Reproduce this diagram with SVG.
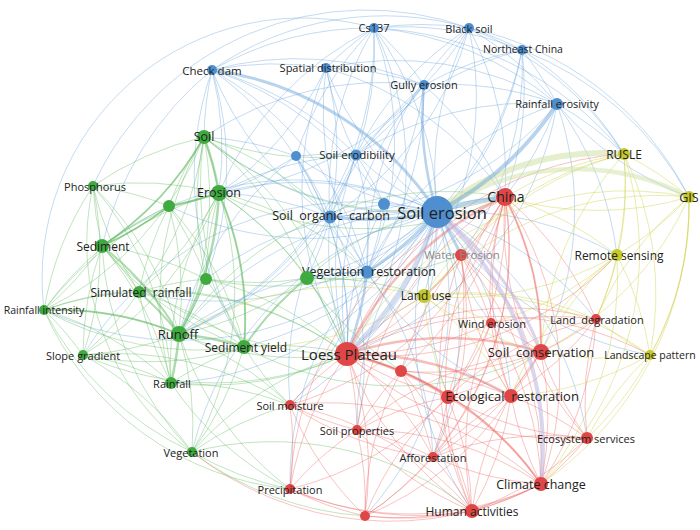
<svg xmlns="http://www.w3.org/2000/svg" width="700" height="530" viewBox="0 0 700 530">
<style>
#edges path{fill:none;stroke-linecap:round}
.b path{stroke:#5c9ad8;stroke-opacity:.36;stroke-width:1}
.g path{stroke:#5cb85c;stroke-opacity:.38;stroke-width:1}
.r path{stroke:#ec625c;stroke-opacity:.38;stroke-width:1}
.y path{stroke:#ccd040;stroke-opacity:.42;stroke-width:1}
.tb path{stroke:#6fa8dc;stroke-opacity:.5;stroke-width:3}
.tr path{stroke:#ee6c66;stroke-opacity:.45;stroke-width:2.5}
.tg path{stroke:#5cb85c;stroke-opacity:.5;stroke-width:2.5}
text{font-family:"Open Sans","Liberation Sans",sans-serif;fill:#222;text-anchor:middle;dominant-baseline:central}
.nb{fill:#4f8fcf}.nr{fill:#e04646}.ng{fill:#3fab3f}.ny{fill:#c6c92b}
</style>
<rect width="700" height="530" fill="#fff"/>
<g id="edges">
<g class="b">
<path d="M437 212A320 320 0 0 1 384 204"/><path d="M437 212A320 320 0 0 1 356 155"/><path d="M437 212A320 320 0 0 1 296 156"/><path d="M437 212A320 320 0 0 1 326 68"/><path d="M374 28A320 320 0 0 1 437 212"/><path d="M437 212A320 320 0 0 1 469 28"/><path d="M522 50A320 320 0 0 1 437 212"/><path d="M437 212A320 320 0 0 1 204 137"/><path d="M219 193A320 320 0 0 1 437 212"/><path d="M437 212A320 320 0 0 1 169 206"/><path d="M102 246A320 320 0 0 1 437 212"/><path d="M437 212A320 320 0 0 1 139 292"/><path d="M206 279A320 320 0 0 1 437 212"/><path d="M437 212A320 320 0 0 1 307 278"/><path d="M179 334A320 320 0 0 1 437 212"/><path d="M437 212A320 320 0 0 1 244 347"/><path d="M83 355A320 320 0 0 1 437 212"/><path d="M437 212A320 320 0 0 1 171 383"/><path d="M192 452A320 320 0 0 1 437 212"/><path d="M437 212A320 320 0 0 1 290 405"/><path d="M357 430A320 320 0 0 1 437 212"/><path d="M437 212A320 320 0 0 1 365 516"/><path d="M290 489A320 320 0 0 1 437 212"/><path d="M437 212A320 320 0 0 1 424 296"/><path d="M437 212A320 320 0 0 1 401 371"/><path d="M448 397A320 320 0 0 1 437 212"/><path d="M437 212A320 320 0 0 1 433 457"/><path d="M472 511A320 320 0 0 1 437 212"/><path d="M437 212A320 320 0 0 1 511 396"/><path d="M437 212A320 320 0 0 1 587 438"/><path d="M437 212A320 320 0 0 1 596 319"/><path d="M491 323A320 320 0 0 1 437 212"/><path d="M437 212A320 320 0 0 1 617 255"/><path d="M650 355A320 320 0 0 1 437 212"/><path d="M437 212A320 320 0 0 1 44 310"/>
<path d="M212 70A320 320 0 0 1 326 68"/><path d="M212 70A320 320 0 0 1 374 28"/><path d="M212 70A320 320 0 0 1 424 85"/><path d="M212 70A320 320 0 0 1 356 155"/><path d="M330 217A320 320 0 0 1 212 70"/><path d="M212 70A320 320 0 0 1 367 272"/><path d="M204 137A320 320 0 0 1 212 70"/><path d="M212 70A320 320 0 0 1 219 193"/><path d="M102 246A320 320 0 0 1 212 70"/><path d="M212 70A320 320 0 0 1 179 334"/><path d="M244 347A320 320 0 0 1 212 70"/><path d="M212 70A320 320 0 0 1 347 354"/><path d="M212 70A320 320 0 0 1 384 204"/><path d="M212 70A300 300 0 0 1 469 28"/>
<path d="M326 68A320 320 0 0 1 374 28"/><path d="M326 68A320 320 0 0 1 424 85"/><path d="M356 155A320 320 0 0 1 326 68"/><path d="M326 68A320 320 0 0 1 330 217"/><path d="M367 272A320 320 0 0 1 326 68"/><path d="M326 68A320 320 0 0 1 219 193"/><path d="M347 354A320 320 0 0 1 326 68"/><path d="M326 68A320 320 0 0 1 557 104"/><path d="M326 68A320 320 0 0 1 505 197"/>
<path d="M374 28A320 320 0 0 1 469 28"/><path d="M374 28A320 320 0 0 1 424 85"/><path d="M374 28A320 320 0 0 1 356 155"/><path d="M330 217A320 320 0 0 1 374 28"/><path d="M374 28A320 320 0 0 1 367 272"/><path d="M374 28A320 320 0 0 1 347 354"/><path d="M374 28A320 320 0 0 1 522 50"/><path d="M219 193A320 320 0 0 1 374 28"/><path d="M374 28A320 320 0 0 1 179 334"/><path d="M374 28A320 320 0 0 1 557 104"/><path d="M296 156A320 320 0 0 1 374 28"/><path d="M374 28A340 340 0 0 1 624 154"/>
<path d="M469 28A320 320 0 0 1 522 50"/><path d="M469 28A320 320 0 0 1 424 85"/><path d="M469 28A320 320 0 0 1 557 104"/><path d="M356 155A320 320 0 0 1 469 28"/><path d="M469 28A320 320 0 0 1 330 217"/><path d="M469 28A320 320 0 0 1 505 197"/><path d="M469 28A320 320 0 0 1 624 154"/><path d="M367 272A320 320 0 0 1 469 28"/><path d="M469 28A320 320 0 0 1 347 354"/><path d="M469 28A320 320 0 0 1 689 197"/>
<path d="M522 50A320 320 0 0 1 557 104"/><path d="M424 85A320 320 0 0 1 522 50"/><path d="M522 50A320 320 0 0 1 505 197"/><path d="M522 50A320 320 0 0 1 624 154"/><path d="M522 50A320 320 0 0 1 689 197"/><path d="M356 155A320 320 0 0 1 522 50"/><path d="M522 50A320 320 0 0 1 367 272"/><path d="M522 50A320 320 0 0 1 461 255"/>
<path d="M424 85A320 320 0 0 1 557 104"/><path d="M424 85A320 320 0 0 1 356 155"/><path d="M330 217A320 320 0 0 1 424 85"/><path d="M424 85A320 320 0 0 1 384 204"/><path d="M424 85A320 320 0 0 1 367 272"/><path d="M347 354A320 320 0 0 1 424 85"/><path d="M424 85A320 320 0 0 1 505 197"/><path d="M204 137A320 320 0 0 1 424 85"/><path d="M424 85A320 320 0 0 1 219 193"/>
<path d="M557 104A320 320 0 0 1 505 197"/><path d="M557 104A320 320 0 0 1 624 154"/><path d="M689 197A320 320 0 0 1 557 104"/><path d="M356 155A320 320 0 0 1 557 104"/><path d="M557 104A320 320 0 0 1 330 217"/><path d="M367 272A320 320 0 0 1 557 104"/><path d="M557 104A320 320 0 0 1 347 354"/><path d="M557 104A320 320 0 0 1 617 255"/><path d="M557 104A320 320 0 0 1 541 352"/>
<path d="M356 155A320 320 0 0 1 330 217"/><path d="M356 155A320 320 0 0 1 384 204"/><path d="M296 156A320 320 0 0 1 356 155"/><path d="M356 155A320 320 0 0 1 367 272"/><path d="M219 193A320 320 0 0 1 356 155"/><path d="M356 155A320 320 0 0 1 179 334"/><path d="M347 354A320 320 0 0 1 356 155"/>
<path d="M296 156A320 320 0 0 1 330 217"/><path d="M204 137A320 320 0 0 1 296 156"/><path d="M296 156A320 320 0 0 1 219 193"/><path d="M179 334A320 320 0 0 1 296 156"/><path d="M296 156A320 320 0 0 1 347 354"/><path d="M367 272A320 320 0 0 1 296 156"/>
<path d="M330 217A320 320 0 0 1 384 204"/><path d="M330 217A320 320 0 0 1 367 272"/><path d="M347 354A320 320 0 0 1 330 217"/><path d="M330 217A320 320 0 0 1 307 278"/><path d="M290 405A320 320 0 0 1 330 217"/><path d="M330 217A320 320 0 0 1 357 430"/><path d="M219 193A320 320 0 0 1 330 217"/><path d="M330 217A320 320 0 0 1 179 334"/>
<path d="M384 204A320 320 0 0 1 367 272"/><path d="M347 354A320 320 0 0 1 384 204"/><path d="M307 278A320 320 0 0 1 367 272"/><path d="M367 272A320 320 0 0 1 290 405"/><path d="M511 396A320 320 0 0 1 367 272"/><path d="M367 272A320 320 0 0 1 433 457"/><path d="M179 334A320 320 0 0 1 367 272"/>
<path d="M44 310A260 260 0 0 1 374 28"/><path d="M93 186A300 300 0 0 1 469 28"/>
</g>
<g class="g">
<path d="M204 137A320 320 0 0 1 219 193"/><path d="M169 206A320 320 0 0 1 204 137"/><path d="M204 137A320 320 0 0 1 102 246"/><path d="M93 186A320 320 0 0 1 204 137"/><path d="M204 137A320 320 0 0 1 179 334"/><path d="M244 347A320 320 0 0 1 204 137"/><path d="M204 137A320 320 0 0 1 139 292"/><path d="M206 279A320 320 0 0 1 204 137"/><path d="M204 137A320 320 0 0 1 307 278"/><path d="M171 383A320 320 0 0 1 204 137"/><path d="M204 137A320 320 0 0 1 44 310"/><path d="M204 137A320 320 0 0 1 330 217"/><path d="M356 155A320 320 0 0 1 204 137"/><path d="M204 137A320 320 0 0 1 347 354"/><path d="M505 197A320 320 0 0 1 204 137"/>
<path d="M93 186A320 320 0 0 1 219 193"/><path d="M93 186A320 320 0 0 1 169 206"/><path d="M102 246A320 320 0 0 1 93 186"/><path d="M93 186A320 320 0 0 1 179 334"/><path d="M44 310A320 320 0 0 1 93 186"/><path d="M93 186A320 320 0 0 1 83 355"/><path d="M139 292A320 320 0 0 1 93 186"/><path d="M93 186A320 320 0 0 1 171 383"/><path d="M192 452A260 260 0 0 1 93 186"/>
<path d="M219 193A320 320 0 0 1 169 206"/><path d="M102 246A320 320 0 0 1 219 193"/><path d="M219 193A320 320 0 0 1 139 292"/><path d="M206 279A320 320 0 0 1 219 193"/><path d="M219 193A320 320 0 0 1 307 278"/><path d="M219 193A320 320 0 0 1 244 347"/><path d="M44 310A320 320 0 0 1 219 193"/><path d="M219 193A320 320 0 0 1 83 355"/><path d="M171 383A320 320 0 0 1 219 193"/><path d="M219 193A320 320 0 0 1 192 452"/><path d="M219 193A320 320 0 0 1 347 354"/><path d="M505 197A320 320 0 0 1 219 193"/><path d="M219 193A320 320 0 0 1 367 272"/>
<path d="M169 206A320 320 0 0 1 102 246"/><path d="M169 206A320 320 0 0 1 179 334"/><path d="M139 292A320 320 0 0 1 169 206"/><path d="M169 206A320 320 0 0 1 244 347"/><path d="M44 310A320 320 0 0 1 169 206"/><path d="M169 206A320 320 0 0 1 206 279"/>
<path d="M102 246A320 320 0 0 1 139 292"/><path d="M244 347A320 320 0 0 1 102 246"/><path d="M102 246A320 320 0 0 1 44 310"/><path d="M83 355A320 320 0 0 1 102 246"/><path d="M102 246A320 320 0 0 1 171 383"/><path d="M192 452A320 320 0 0 1 102 246"/><path d="M102 246A320 320 0 0 1 206 279"/><path d="M347 354A320 320 0 0 1 102 246"/>
<path d="M139 292A320 320 0 0 1 244 347"/><path d="M44 310A320 320 0 0 1 139 292"/><path d="M139 292A320 320 0 0 1 83 355"/><path d="M171 383A320 320 0 0 1 139 292"/><path d="M139 292A320 320 0 0 1 206 279"/><path d="M139 292A320 320 0 0 1 347 354"/>
<path d="M206 279A320 320 0 0 1 179 334"/><path d="M206 279A320 320 0 0 1 244 347"/><path d="M307 278A320 320 0 0 1 206 279"/><path d="M206 279A320 320 0 0 1 347 354"/><path d="M367 272A320 320 0 0 1 206 279"/>
<path d="M307 278A320 320 0 0 1 179 334"/><path d="M307 278A320 320 0 0 1 347 354"/><path d="M401 371A320 320 0 0 1 307 278"/><path d="M307 278A320 320 0 0 1 424 296"/><path d="M461 255A320 320 0 0 1 307 278"/><path d="M307 278A320 320 0 0 1 505 197"/>
<path d="M44 310A320 320 0 0 1 179 334"/><path d="M179 334A320 320 0 0 1 83 355"/><path d="M179 334A320 320 0 0 1 192 452"/><path d="M347 354A320 320 0 0 1 179 334"/><path d="M179 334A320 320 0 0 1 290 405"/><path d="M290 489A320 320 0 0 1 179 334"/><path d="M179 334A320 320 0 0 1 505 197"/>
<path d="M244 347A320 320 0 0 1 44 310"/><path d="M244 347A320 320 0 0 1 83 355"/><path d="M171 383A320 320 0 0 1 244 347"/><path d="M244 347A320 320 0 0 1 192 452"/><path d="M290 405A320 320 0 0 1 244 347"/><path d="M244 347A320 320 0 0 1 401 371"/><path d="M541 352A320 320 0 0 1 244 347"/>
<path d="M44 310A320 320 0 0 1 83 355"/><path d="M44 310A320 320 0 0 1 171 383"/><path d="M192 452A320 320 0 0 1 44 310"/><path d="M290 489A300 300 0 0 1 44 310"/><path d="M44 310A320 320 0 0 1 347 354"/>
<path d="M83 355A320 320 0 0 1 171 383"/><path d="M83 355A320 320 0 0 1 192 452"/><path d="M347 354A320 320 0 0 1 83 355"/><path d="M83 355A320 320 0 0 1 290 405"/>
<path d="M347 354A320 320 0 0 1 171 383"/><path d="M171 383A320 320 0 0 1 290 405"/><path d="M290 489A320 320 0 0 1 171 383"/>
<path d="M192 452A320 320 0 0 1 347 354"/><path d="M290 489A320 320 0 0 1 192 452"/><path d="M192 452A320 320 0 0 1 290 405"/><path d="M365 516A320 320 0 0 1 192 452"/><path d="M192 452A320 320 0 0 1 472 511"/>
</g>
<g class="r">
<path d="M461 255A320 320 0 0 1 347 354"/><path d="M347 354A320 320 0 0 1 401 371"/><path d="M491 323A320 320 0 0 1 347 354"/><path d="M347 354A320 320 0 0 1 596 319"/><path d="M448 397A320 320 0 0 1 347 354"/><path d="M347 354A320 320 0 0 1 357 430"/><path d="M290 405A320 320 0 0 1 347 354"/><path d="M347 354A320 320 0 0 1 433 457"/><path d="M587 438A320 320 0 0 1 347 354"/><path d="M472 511A320 320 0 0 1 347 354"/><path d="M347 354A320 320 0 0 1 365 516"/><path d="M290 489A320 320 0 0 1 347 354"/><path d="M347 354A320 320 0 0 1 424 296"/><path d="M617 255A320 320 0 0 1 347 354"/><path d="M347 354A320 320 0 0 1 624 154"/><path d="M347 354A320 320 0 0 1 650 355"/>
<path d="M505 197A320 320 0 0 1 461 255"/><path d="M505 197A320 320 0 0 1 401 371"/><path d="M491 323A320 320 0 0 1 505 197"/><path d="M505 197A320 320 0 0 1 596 319"/><path d="M505 197A320 320 0 0 1 541 352"/><path d="M511 396A320 320 0 0 1 505 197"/><path d="M505 197A320 320 0 0 1 448 397"/><path d="M357 430A320 320 0 0 1 505 197"/><path d="M505 197A320 320 0 0 1 290 405"/><path d="M505 197A320 320 0 0 1 433 457"/><path d="M587 438A320 320 0 0 1 505 197"/><path d="M505 197A320 320 0 0 1 541 484"/><path d="M472 511A320 320 0 0 1 505 197"/><path d="M505 197A320 320 0 0 1 365 516"/><path d="M290 489A320 320 0 0 1 505 197"/><path d="M505 197A320 320 0 0 1 424 296"/>
<path d="M461 255A320 320 0 0 1 491 323"/><path d="M461 255A320 320 0 0 1 541 352"/><path d="M511 396A320 320 0 0 1 461 255"/><path d="M461 255A320 320 0 0 1 448 397"/><path d="M401 371A320 320 0 0 1 461 255"/><path d="M461 255A320 320 0 0 1 541 484"/><path d="M472 511A320 320 0 0 1 461 255"/><path d="M461 255A320 320 0 0 1 433 457"/>
<path d="M401 371A320 320 0 0 1 448 397"/><path d="M401 371A320 320 0 0 1 511 396"/><path d="M541 352A320 320 0 0 1 401 371"/><path d="M401 371A320 320 0 0 1 433 457"/><path d="M357 430A320 320 0 0 1 401 371"/><path d="M401 371A320 320 0 0 1 541 484"/><path d="M401 371A320 320 0 0 1 472 511"/><path d="M365 516A320 320 0 0 1 401 371"/>
<path d="M491 323A320 320 0 0 1 541 352"/><path d="M491 323A320 320 0 0 1 596 319"/><path d="M511 396A320 320 0 0 1 491 323"/><path d="M491 323A320 320 0 0 1 541 484"/><path d="M472 511A320 320 0 0 1 491 323"/><path d="M491 323A320 320 0 0 1 448 397"/>
<path d="M596 319A320 320 0 0 1 541 352"/><path d="M596 319A320 320 0 0 1 511 396"/><path d="M587 438A320 320 0 0 1 596 319"/><path d="M596 319A320 320 0 0 1 541 484"/><path d="M448 397A320 320 0 0 1 596 319"/>
<path d="M541 352A320 320 0 0 1 511 396"/><path d="M541 352A320 320 0 0 1 448 397"/><path d="M587 438A320 320 0 0 1 541 352"/><path d="M541 352A320 320 0 0 1 541 484"/><path d="M472 511A320 320 0 0 1 541 352"/><path d="M541 352A320 320 0 0 1 433 457"/><path d="M357 430A320 320 0 0 1 541 352"/>
<path d="M511 396A320 320 0 0 1 448 397"/><path d="M511 396A320 320 0 0 1 587 438"/><path d="M541 484A320 320 0 0 1 511 396"/><path d="M511 396A320 320 0 0 1 472 511"/><path d="M433 457A320 320 0 0 1 511 396"/><path d="M511 396A320 320 0 0 1 365 516"/>
<path d="M448 397A320 320 0 0 1 433 457"/><path d="M587 438A320 320 0 0 1 448 397"/><path d="M448 397A320 320 0 0 1 541 484"/><path d="M448 397A320 320 0 0 1 472 511"/><path d="M365 516A320 320 0 0 1 448 397"/><path d="M448 397A320 320 0 0 1 290 489"/><path d="M357 430A320 320 0 0 1 448 397"/>
<path d="M357 430A320 320 0 0 1 290 405"/><path d="M357 430A320 320 0 0 1 433 457"/><path d="M472 511A320 320 0 0 1 357 430"/><path d="M357 430A320 320 0 0 1 365 516"/><path d="M290 489A320 320 0 0 1 357 430"/><path d="M357 430A320 320 0 0 1 541 484"/>
<path d="M290 405A320 320 0 0 1 290 489"/><path d="M365 516A320 320 0 0 1 290 405"/><path d="M290 405A320 320 0 0 1 472 511"/><path d="M433 457A320 320 0 0 1 290 405"/><path d="M290 405A320 320 0 0 1 541 484"/>
<path d="M433 457A320 320 0 0 1 472 511"/><path d="M433 457A320 320 0 0 1 365 516"/><path d="M541 484A320 320 0 0 1 433 457"/><path d="M433 457A320 320 0 0 1 587 438"/>
<path d="M587 438A320 320 0 0 1 541 484"/><path d="M587 438A320 320 0 0 1 472 511"/><path d="M541 484A320 320 0 0 1 472 511"/><path d="M541 484A320 320 0 0 1 365 516"/><path d="M541 484A300 300 0 0 1 290 489"/><path d="M541 484A320 320 0 0 1 192 452"/>
<path d="M472 511A320 320 0 0 1 365 516"/><path d="M472 511A320 320 0 0 1 290 489"/><path d="M365 516A320 320 0 0 1 290 489"/>
</g>
<g class="y">
<path d="M624 154A320 320 0 0 1 689 197"/><path d="M624 154A320 320 0 0 1 617 255"/><path d="M424 296A320 320 0 0 1 624 154"/><path d="M624 154A320 320 0 0 1 650 355"/><path d="M505 197A320 320 0 0 1 624 154"/><path d="M624 154A320 320 0 0 1 596 319"/><path d="M541 352A320 320 0 0 1 624 154"/><path d="M624 154A320 320 0 0 1 541 484"/><path d="M461 255A320 320 0 0 1 624 154"/>
<path d="M689 197A320 320 0 0 1 617 255"/><path d="M424 296A320 320 0 0 1 689 197"/><path d="M689 197A300 300 0 0 1 650 355"/><path d="M689 197A320 320 0 0 1 505 197"/><path d="M596 319A320 320 0 0 1 689 197"/><path d="M689 197A320 320 0 0 1 541 352"/><path d="M689 197A320 320 0 0 1 587 438"/><path d="M689 197A340 340 0 0 1 541 484"/><path d="M347 354A320 320 0 0 1 689 197"/>
<path d="M617 255A320 320 0 0 1 424 296"/><path d="M617 255A320 320 0 0 1 650 355"/><path d="M505 197A320 320 0 0 1 617 255"/><path d="M617 255A320 320 0 0 1 596 319"/><path d="M541 352A320 320 0 0 1 617 255"/><path d="M617 255A320 320 0 0 1 491 323"/><path d="M511 396A320 320 0 0 1 617 255"/><path d="M617 255A320 320 0 0 1 541 484"/>
<path d="M424 296A320 320 0 0 1 650 355"/><path d="M424 296A320 320 0 0 1 491 323"/><path d="M541 352A320 320 0 0 1 424 296"/><path d="M424 296A320 320 0 0 1 511 396"/><path d="M448 397A320 320 0 0 1 424 296"/><path d="M424 296A320 320 0 0 1 596 319"/><path d="M461 255A320 320 0 0 1 424 296"/><path d="M179 334A320 320 0 0 1 424 296"/><path d="M424 296A320 320 0 0 1 244 347"/>
<path d="M650 355A320 320 0 0 1 596 319"/><path d="M650 355A320 320 0 0 1 541 352"/><path d="M587 438A320 320 0 0 1 650 355"/><path d="M650 355A320 320 0 0 1 511 396"/>
</g>
<g class="tg">
<path d="M204 137A320 320 0 0 1 219 193"/><path d="M219 193A320 320 0 0 1 179 334"/><path d="M179 334A320 320 0 0 1 244 347"/><path d="M102 246A320 320 0 0 1 179 334" style="stroke-width:2"/><path d="M179 334A320 320 0 0 1 171 383"/><path d="M219 193A320 320 0 0 1 169 206" style="stroke-width:2"/><path d="M169 206A320 320 0 0 1 102 246" style="stroke-width:2"/><path d="M139 292A320 320 0 0 1 179 334" style="stroke-width:2"/><path d="M244 347A320 320 0 0 1 307 278" style="stroke-width:2"/><path d="M44 310A320 320 0 0 1 179 334" style="stroke-width:1.8"/><path d="M219 193A320 320 0 0 1 244 347" style="stroke-width:2"/><path d="M204 137A320 320 0 0 1 102 246" style="stroke-width:1.8"/>
</g>
<g class="tr">
<path d="M347 354A320 320 0 0 1 541 352"/><path d="M347 354A320 320 0 0 1 511 396"/><path d="M347 354A320 320 0 0 1 505 197"/><path d="M347 354A320 320 0 0 1 448 397"/><path d="M347 354A320 320 0 0 1 541 484" style="stroke-width:2"/><path d="M505 197A320 320 0 0 1 541 352" style="stroke-width:2"/>
</g>
<g class="tb">
<path d="M437 212A260 260 0 0 1 624 154" style="stroke:#cfe2a6;stroke-width:6;stroke-opacity:.55"/>
<path d="M437 212A245 245 0 0 1 689 197" style="stroke:#cfe2a6;stroke-width:4.5;stroke-opacity:.5"/>
<path d="M557 104A320 320 0 0 1 437 212" style="stroke-width:4"/>
<path d="M437 212A320 320 0 0 1 505 197" style="stroke-width:4"/>
<path d="M437 212A320 320 0 0 1 347 354" style="stroke:#a5b9e2;stroke-width:5"/>
<path d="M437 212A320 320 0 0 1 541 484" style="stroke:#b9b3de;stroke-width:4;stroke-opacity:.55"/>
<path d="M437 212A320 320 0 0 1 541 352" style="stroke:#b9b3de;stroke-width:3;stroke-opacity:.55"/>
<path d="M212 70A320 320 0 0 1 437 212"/>
<path d="M437 212A320 320 0 0 1 330 217"/>
<path d="M437 212A320 320 0 0 1 367 272"/>
<path d="M437 212A320 320 0 0 1 461 255"/>
<path d="M437 212A320 320 0 0 1 424 85" style="stroke-width:2.5"/>
<path d="M367 272A320 320 0 0 1 347 354" style="stroke-width:2.5"/>
</g>
</g>
<g id="n-soil-erosion"><circle class="nb" cx="437" cy="212" r="16"/><text x="442" y="212" font-size="16.5">Soil erosion</text></g>
<g id="n-soil-organic-carbon"><circle class="nb" cx="330" cy="217" r="6.5"/><text x="331" y="215" font-size="12.5" style="white-space:pre">Soil  organic  carbon</text></g>
<g id="n-blue-unlabeled-1"><circle class="nb" cx="384" cy="204" r="6"/></g>
<g id="n-soil-erodibility"><circle class="nb" cx="356" cy="155" r="5.5"/><text x="357" y="154" font-size="11.5">Soil erodibility</text></g>
<g id="n-blue-unlabeled-2"><circle class="nb" cx="296" cy="156" r="5"/></g>
<g id="n-vegetation-restoration"><circle class="nb" cx="367" cy="272" r="6.5"/><text x="369" y="271" font-size="12.5" style="white-space:pre">Vegetation  restoration</text></g>
<g id="n-check-dam"><circle class="nb" cx="212" cy="70" r="5"/><text x="212" y="70" font-size="11.5">Check dam</text></g>
<g id="n-spatial-distribution"><circle class="nb" cx="326" cy="68" r="5"/><text x="328" y="67" font-size="11">Spatial distribution</text></g>
<g id="n-cs137"><circle class="nb" cx="374" cy="28" r="5"/><text x="374" y="27" font-size="11">Cs137</text></g>
<g id="n-black-soil"><circle class="nb" cx="469" cy="28" r="5"/><text x="469" y="28" font-size="11">Black soil</text></g>
<g id="n-northeast-china"><circle class="nb" cx="522" cy="50" r="5"/><text x="523" y="49" font-size="10.5">Northeast China</text></g>
<g id="n-gully-erosion"><circle class="nb" cx="424" cy="85" r="5"/><text x="424" y="84" font-size="11">Gully erosion</text></g>
<g id="n-rainfall-erosivity"><circle class="nb" cx="557" cy="104" r="6"/><text x="557" y="103" font-size="11">Rainfall erosivity</text></g>
<g id="n-china"><circle class="nr" cx="505" cy="197" r="9"/><text x="506" y="196" font-size="14">China</text></g>
<g id="n-water-erosion"><circle class="nr" cx="461" cy="255" r="6"/><text x="462" y="254" font-size="11.5" style="fill:#8a8a8a">Water Erosion</text></g>
<g id="n-loess-plateau"><circle class="nr" cx="347" cy="354" r="12"/><text x="349" y="354" font-size="15">Loess Plateau</text></g>
<g id="n-red-unlabeled-1"><circle class="nr" cx="401" cy="371" r="6"/></g>
<g id="n-wind-erosion"><circle class="nr" cx="491" cy="323" r="5"/><text x="492" y="323" font-size="11">Wind erosion</text></g>
<g id="n-land-degradation"><circle class="nr" cx="596" cy="319" r="5"/><text x="597" y="319" font-size="11" style="white-space:pre">Land  degradation</text></g>
<g id="n-soil-conservation"><circle class="nr" cx="541" cy="352" r="8"/><text x="541" y="352" font-size="13" style="white-space:pre">Soil  conservation</text></g>
<g id="n-red-unlabeled-2"><circle class="nr" cx="448" cy="397" r="7"/></g>
<g id="n-ecological-restoration"><circle class="nr" cx="511" cy="396" r="7"/><text x="512" y="396" font-size="13" style="white-space:pre">Ecological  restoration</text></g>
<g id="n-soil-properties"><circle class="nr" cx="357" cy="430" r="5"/><text x="357" y="430" font-size="11">Soil properties</text></g>
<g id="n-soil-moisture"><circle class="nr" cx="290" cy="405" r="5"/><text x="290" y="405" font-size="11">Soil moisture</text></g>
<g id="n-afforestation"><circle class="nr" cx="433" cy="457" r="5"/><text x="433" y="457" font-size="11">Afforestation</text></g>
<g id="n-ecosystem-services"><circle class="nr" cx="587" cy="438" r="6"/><text x="586" y="438" font-size="11">Ecosystem services</text></g>
<g id="n-climate-change"><circle class="nr" cx="541" cy="484" r="7"/><text x="541" y="484" font-size="12.5">Climate change</text></g>
<g id="n-human-activities"><circle class="nr" cx="472" cy="511" r="7"/><text x="472" y="511" font-size="12">Human activities</text></g>
<g id="n-red-unlabeled-3"><circle class="nr" cx="365" cy="516" r="5"/></g>
<g id="n-precipitation"><circle class="nr" cx="290" cy="489" r="5"/><text x="290" y="489" font-size="11">Precipitation</text></g>
<g id="n-soil"><circle class="ng" cx="204" cy="137" r="7"/><text x="204" y="136" font-size="12.5">Soil</text></g>
<g id="n-phosphorus"><circle class="ng" cx="93" cy="186" r="5"/><text x="95" y="186" font-size="11">Phosphorus</text></g>
<g id="n-erosion"><circle class="ng" cx="219" cy="193" r="8"/><text x="219" y="192" font-size="12.5">Erosion</text></g>
<g id="n-green-unlabeled-1"><circle class="ng" cx="169" cy="206" r="6"/></g>
<g id="n-sediment"><circle class="ng" cx="102" cy="246" r="7"/><text x="103" y="246" font-size="12">Sediment</text></g>
<g id="n-simulated-rainfall"><circle class="ng" cx="139" cy="292" r="6"/><text x="141" y="292" font-size="12" style="white-space:pre">Simulated  rainfall</text></g>
<g id="n-green-unlabeled-2"><circle class="ng" cx="206" cy="279" r="6"/></g>
<g id="n-green-unlabeled-3"><circle class="ng" cx="307" cy="278" r="7"/></g>
<g id="n-runoff"><circle class="ng" cx="179" cy="334" r="8"/><text x="178" y="334" font-size="13">Runoff</text></g>
<g id="n-sediment-yield"><circle class="ng" cx="244" cy="347" r="7"/><text x="246" y="347" font-size="12">Sediment yield</text></g>
<g id="n-rainfall-intensity"><circle class="ng" cx="44" cy="310" r="5"/><text x="44" y="310" font-size="10.5">Rainfall intensity</text></g>
<g id="n-slope-gradient"><circle class="ng" cx="83" cy="355" r="5"/><text x="83" y="355" font-size="11">Slope gradient</text></g>
<g id="n-rainfall"><circle class="ng" cx="171" cy="383" r="6"/><text x="172" y="383" font-size="11">Rainfall</text></g>
<g id="n-vegetation"><circle class="ng" cx="192" cy="452" r="5"/><text x="191" y="452" font-size="11">Vegetation</text></g>
<g id="n-rusle"><circle class="ny" cx="624" cy="154" r="6"/><text x="624" y="154" font-size="12">RUSLE</text></g>
<g id="n-gis"><circle class="ny" cx="689" cy="197" r="6"/><text x="689" y="197" font-size="12.5">GIS</text></g>
<g id="n-remote-sensing"><circle class="ny" cx="617" cy="255" r="6"/><text x="619" y="255" font-size="12">Remote sensing</text></g>
<g id="n-land-use"><circle class="ny" cx="424" cy="296" r="7"/><text x="426" y="295" font-size="12">Land use</text></g>
<g id="n-landscape-pattern"><circle class="ny" cx="650" cy="355" r="5"/><text x="650" y="355" font-size="10.5">Landscape pattern</text></g>
</svg>
